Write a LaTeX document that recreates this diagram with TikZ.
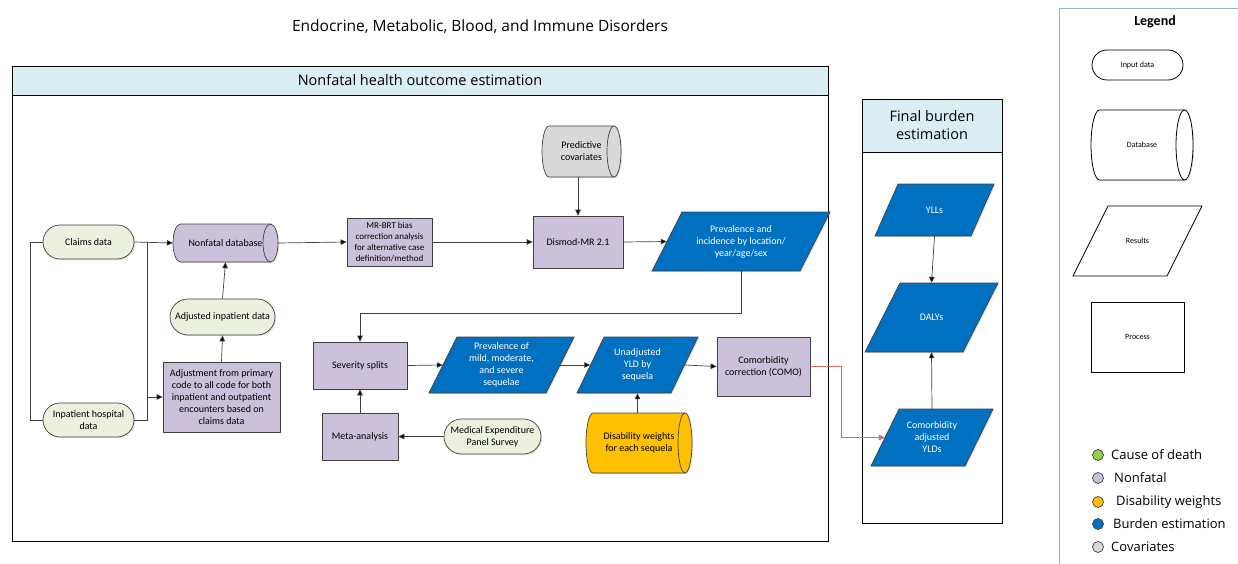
\documentclass[tikz,border=0pt]{standalone}
\usepackage{fontspec}
\setmainfont{Carlito}
\newfontfamily\segoe{Open Sans}
\usetikzlibrary{shapes.geometric,shapes.misc,arrows.meta,shadows}
\definecolor{inputc}{HTML}{EBF1DE}
\definecolor{procc}{HTML}{CCC1DA}
\definecolor{resc}{HTML}{0070C0}
\definecolor{dwc}{HTML}{FFC000}
\definecolor{covc}{HTML}{D9D9D9}
\definecolor{hdrc}{HTML}{DAEEF3}
\definecolor{redl}{HTML}{D46A66}
\definecolor{legl}{HTML}{95B3D7}
\definecolor{greenc}{HTML}{92D050}
\definecolor{bord}{HTML}{404040}
% parallelogram: #1 shape style, #2 text style, #3 name, #4 x, #5 y, #6 width, #7 height, #8 slant, #9 text
\newcommand{\resshape}[9]{%
  \filldraw[#1] (#4-#6/2,#5+#7/2) -- (#4-#6/2+#8,#5-#7/2) -- (#4+#6/2,#5-#7/2) -- (#4+#6/2-#8,#5+#7/2) -- cycle;
  \node[#2, minimum width=#6pt-#8pt, minimum height=#7pt] (#3) at (#4,#5) {#9};%
}
% lying cylinder: #1 shape style, #2 text style, #3 name, #4 x, #5 y, #6 width, #7 height, #8 end radius, #9 text
\newcommand{\dbshape}[9]{%
  \filldraw[#1, shad] (#4-#6/2+#8,#5-#7/2) -- (#4+#6/2-#8,#5-#7/2)
     arc[start angle=-90, end angle=90, x radius=#8, y radius=#7/2]
     -- (#4-#6/2+#8,#5+#7/2)
     arc[start angle=90, end angle=270, x radius=#8, y radius=#7/2] -- cycle;
  \draw[#1, fill=none] (#4+#6/2-#8,#5-#7/2) arc[start angle=270, end angle=90, x radius=#8, y radius=#7/2];
  \node[#2, minimum width=#6pt, minimum height=#7pt] (#3) at (#4,#5) {#9};%
}
\begin{document}
\begin{tikzpicture}[x=1pt,y=-1pt,
  shad/.style={drop shadow={shadow xshift=1.2pt,shadow yshift=-1.2pt,opacity=0.22}},
  txt/.style={font=\fontsize{10}{12}\selectfont, align=center, inner sep=1pt},
  base/.style={txt, draw=bord, line width=0.7pt},
  inputbox/.style={base, shad, rounded rectangle, fill=inputc},
  procbox/.style={base, shad, rectangle, fill=procc},
  dbfill/.style={draw=bord, line width=0.7pt, fill=#1},
  resfill/.style={draw=bord, line width=0.7pt, fill=resc, shad},
  restext/.style={txt, text=white},
  legfill/.style={draw=black, line width=0.8pt, fill=white},
  legtext/.style={font=\fontsize{8}{10}\selectfont, align=center, inner sep=1pt},
  legshape/.style={legtext, legfill},
  arr/.style={draw=bord, line width=0.7pt, -{Triangle[length=6pt,width=5.5pt,fill=black]}},
  plain/.style={draw=bord, line width=0.7pt},
  hdr/.style={draw=black, line width=0.7pt, fill=hdrc, font=\segoe\fontsize{14.5}{18}\selectfont, align=center},
  dot/.style={circle, draw=bord, line width=0.7pt, minimum size=11pt, inner sep=0pt, fill=#1},
  dotlab/.style={anchor=west, font=\segoe\fontsize{13}{15}\selectfont, inner sep=0pt}
]
\useasboundingbox (0,0) rectangle (1238,564);

% title
\node[font=\segoe\fontsize{15.5}{18}\selectfont] (title) at (480,27) {Endocrine, Metabolic, Blood, and Immune Disorders};

% frames
\draw[draw=black, line width=0.7pt] (12,66) rectangle (828,541);
\node[hdr, minimum width=816pt, minimum height=29pt] (hnf) at (420,80.5) {Nonfatal health outcome estimation};
\draw[draw=black, line width=0.7pt] (862,99) rectangle (1002,523);
\node[hdr, minimum width=140pt, minimum height=53pt] (hfb) at (932,125.5) {Final burden\\estimation};

% legend frame
\draw[draw=legl, line width=1pt] (1059,564) -- (1059,9) -- (1238,9);
\node[font=\bfseries\fontsize{14}{16}\selectfont] (legt) at (1155,22) {Legend};
\node[legshape, rounded rectangle, minimum width=93pt, minimum height=30pt] (lin) at (1137.5,65) {Input data};
\dbshape{legfill}{legtext}{ldb}{1142}{145}{102}{70}{8.5}{Database}
\resshape{legfill}{legtext}{lres}{1137.5}{241}{129}{70}{35}{Results}
\node[legshape, rectangle, minimum width=93pt, minimum height=70pt] (lproc) at (1137.5,337) {Process};

\node[dot=greenc] (d1) at (1098,455) {};
\node[dotlab] (t1) at (1111,455) {Cause of death};
\node[dot=procc] (d2) at (1098,478) {};
\node[dotlab] (t2) at (1114,478) {Nonfatal};
\node[dot=dwc] (d3) at (1098,502) {};
\node[dotlab] (t3) at (1116,502) {Disability weights};
\node[dot=resc] (d4) at (1098,524) {};
\node[dotlab] (t4) at (1113,524) {Burden estimation};
\node[dot=covc] (d5) at (1098,547) {};
\node[dotlab] (t5) at (1111,547) {Covariates};

% nonfatal nodes
\node[inputbox, minimum width=93pt, minimum height=34pt] (claims) at (88.5,242) {Claims data};
\node[inputbox, minimum width=93pt, minimum height=34pt] (inpat) at (88.5,420) {Inpatient hospital\\data};
\dbshape{dbfill=procc}{txt}{ndb}{225.5}{243}{105}{38}{7.5}{Nonfatal database}
\node[inputbox, minimum width=107pt, minimum height=36pt] (adjin) at (222.5,317) {Adjusted inpatient data};
\node[procbox, minimum width=117pt, minimum height=70pt] (adjbox) at (221.5,397) {Adjustment from primary\\code to all code for both\\inpatient and outpatient\\encounters based on\\claims data};
\node[procbox, font=\fontsize{9}{11}\selectfont, minimum width=85pt, minimum height=48pt] (mrbrt) at (389.5,242) {MR-BRT bias\\correction analysis\\for alternative case\\definition/method};
\dbshape{dbfill=covc}{txt}{pcov}{581.5}{151.5}{79}{51}{7}{Predictive\\covariates}
\node[procbox, minimum width=90pt, minimum height=52pt] (dismod) at (578,242) {Dismod-MR 2.1};
\resshape{resfill}{restext}{previnc}{741}{241.5}{178}{59}{30}{Prevalence and\\incidence by location/\\year/age/sex}
\node[procbox, minimum width=94pt, minimum height=47pt] (sev) at (360,365.5) {Severity splits};
\resshape{resfill}{restext}{prevmild}{501.5}{365}{145}{56}{28}{Prevalence of\\mild, moderate,\\and severe\\sequelae}
\resshape{resfill}{restext}{unadj}{637.5}{365}{121}{56}{27}{Unadjusted\\YLD by\\sequela}
\node[procbox, minimum width=93pt, minimum height=59pt] (como) at (763.5,366.5) {Comorbidity\\correction (COMO)};
\node[procbox, minimum width=76pt, minimum height=47pt] (meta) at (360,436.5) {Meta-analysis};
\node[inputbox, minimum width=99pt, minimum height=35pt] (meps) at (492.5,436.5) {Medical Expenditure\\Panel Survey};
\dbshape{dbfill=dwc}{txt}{dw}{639}{443}{106}{60}{7}{Disability weights\\for each sequela}

% final burden nodes
\resshape{resfill}{restext}{ylls}{934.5}{210}{119}{52}{23}{YLLs}
\resshape{resfill}{restext}{dalys}{931.5}{317.5}{133}{69}{35}{DALYs}
\resshape{resfill}{restext}{cay}{932}{437.5}{122}{57}{28}{Comorbidity\\adjusted\\YLDs}

% connectors
\coordinate (j) at (147,242);
\draw[arr] (claims.east) -- (ndb.west);
\draw[plain] (claims.west) -- ++(-12,0) |- (inpat.west);
\draw[plain] (inpat.east) -| (j);
\draw[arr] (j |- adjbox.west) -- (adjbox.west);
\draw[arr] (adjbox.north) -- (adjin.south);
\draw[arr] (adjin.north) -- (ndb.south);
\draw[arr] (ndb.east) -- (mrbrt.west);
\draw[arr] (mrbrt.east) -- (dismod.west);
\draw[arr] (dismod.north |- pcov.south) -- (dismod.north);
\draw[arr] (dismod.east) -- (previnc.west);
\draw[arr] (previnc.south) -- ++(0,42) -| (sev.north);
\draw[arr] (sev.east) -- (prevmild.west);
\draw[arr] (prevmild.east) -- (unadj.west);
\draw[arr] (unadj.east) -- (como.west);
\draw[arr] (unadj.south |- dw.north) -- (unadj.south);
\draw[arr] (meta.north) -- (sev.south);
\draw[arr] (meps.west) -- (meta.east);
\draw[arr, draw=redl, -{Triangle[length=6pt,width=5.5pt,fill=redl]}] (como.east) -- ++(31,0) |- (cay.west);
\draw[arr] (ylls.south) -- (dalys.north);
\draw[arr] (cay.north) -- (dalys.south);
\end{tikzpicture}
\end{document}
